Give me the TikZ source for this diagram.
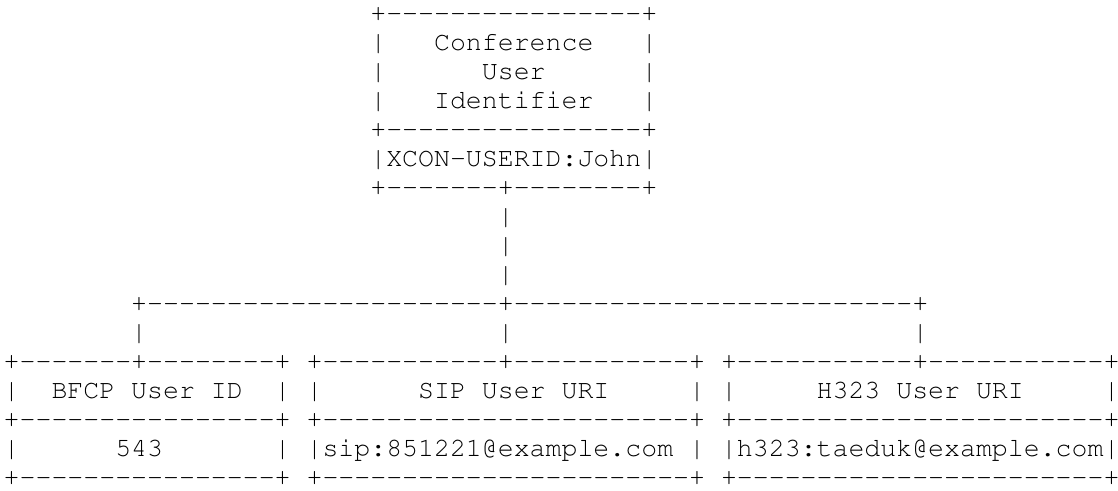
\documentclass[tikz,border=0pt]{standalone}
\usepackage[T1]{fontenc}
\usepackage{courier}
\usepackage{tikz}
\newcommand{\hr}[1]{\foreach \k in {1,...,#1}{-}}
\tikzset{ascii/.style={anchor=base west, inner sep=0pt, outer sep=0pt,
  font=\fontsize{9.98}{11}\selectfont\ttfamily}}

\begin{document}
\begin{tikzpicture}[x=5.988pt, y=-10.9pt]
	\useasboundingbox (-1.4pt,8pt) rectangle (418.6pt,-176.1pt);

	% conference user identifier
	\node[ascii] (cuiTop) at (23,0) {+\hr{16}+};
	\node[ascii] (cuiL1) at (23,1) {|};
	\node[ascii] (cuiT1) at (27,1) {Conference};
	\node[ascii] (cuiR1) at (40,1) {|};
	\node[ascii] (cuiL2) at (23,2) {|};
	\node[ascii] (cuiT2) at (30,2) {User};
	\node[ascii] (cuiR2) at (40,2) {|};
	\node[ascii] (cuiL3) at (23,3) {|};
	\node[ascii] (cuiT3) at (27,3) {Identifier};
	\node[ascii] (cuiR3) at (40,3) {|};
	\node[ascii] (cuiMid) at (23,4) {+\hr{16}+};
	\node[ascii] (cuiVal) at (23,5) {|XCON-USERID:John|};
	\node[ascii] (cuiBot) at (23,6) {+\hr{7}+\hr{8}+};

	% trunk and branches
	\foreach \r in {7,8,9}
		\node[ascii] (trunk\r) at (31,\r) {|};
	\node[ascii] (bus) at (8,10) {+\hr{22}+\hr{25}+};
	\node[ascii] (drop1) at (8,11) {|};
	\node[ascii] (drop2) at (31,11) {|};
	\node[ascii] (drop3) at (57,11) {|};

	% BFCP
	\node[ascii] (bfcpTop) at (0,12) {+\hr{7}+\hr{8}+};
	\node[ascii] (bfcpL1) at (0,13) {|};
	\node[ascii] (bfcpName) at (3,13) {BFCP User ID};
	\node[ascii] (bfcpR1) at (17,13) {|};
	\node[ascii] (bfcpMid) at (0,14) {+\hr{16}+};
	\node[ascii] (bfcpL2) at (0,15) {|};
	\node[ascii] (bfcpVal) at (7,15) {543};
	\node[ascii] (bfcpR2) at (17,15) {|};
	\node[ascii] (bfcpBot) at (0,16) {+\hr{16}+};

	% SIP
	\node[ascii] (sipTop) at (19,12) {+\hr{11}+\hr{11}+};
	\node[ascii] (sipL1) at (19,13) {|};
	\node[ascii] (sipName) at (26,13) {SIP User URI};
	\node[ascii] (sipR1) at (43,13) {|};
	\node[ascii] (sipMid) at (19,14) {+\hr{23}+};
	\node[ascii] (sipVal) at (19,15) {|sip:851221@example.com};
	\node[ascii] (sipR2) at (43,15) {|};
	\node[ascii] (sipBot) at (19,16) {+\hr{23}+};

	% H323
	\node[ascii] (h323Top) at (45,12) {+\hr{11}+\hr{11}+};
	\node[ascii] (h323L1) at (45,13) {|};
	\node[ascii] (h323Name) at (51,13) {H323 User URI};
	\node[ascii] (h323R1) at (69,13) {|};
	\node[ascii] (h323Mid) at (45,14) {+\hr{23}+};
	\node[ascii] (h323Val) at (45,15) {|h323:taeduk@example.com|};
	\node[ascii] (h323Bot) at (45,16) {+\hr{23}+};
\end{tikzpicture}
\end{document}
